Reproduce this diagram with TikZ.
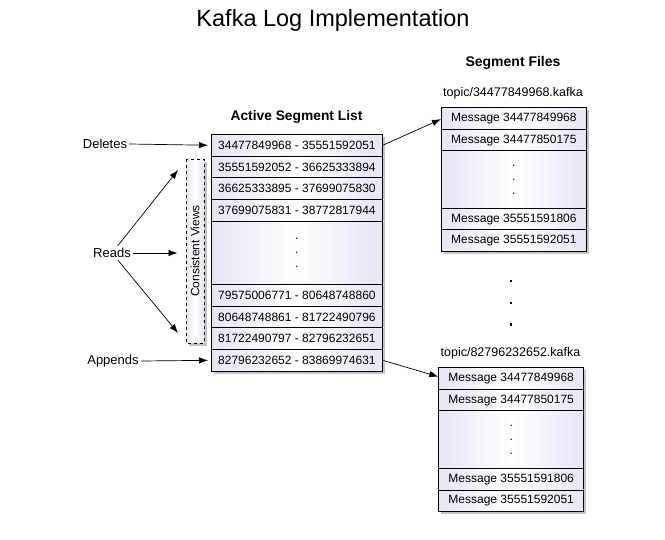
\documentclass[tikz,border=0pt]{standalone}
\usepackage{fontspec}
\setmainfont{Liberation Sans}
\usetikzlibrary{shadows,arrows.meta,calc,fit}
\definecolor{lav}{RGB}{230,230,245}
\begin{document}
\begin{tikzpicture}[x=1pt,y=-1pt,
  fs/.style={font=\fontsize{#1}{#1}\selectfont},
  cell/.style={draw=black, line width=0.8pt, inner sep=0pt, anchor=north west,
    left color=lav, right color=lav, middle color=white, fs=12},
  arow/.style={cell, minimum width=171pt, minimum height=21.7pt},
  srow/.style={cell, minimum width=145pt, minimum height=21.5pt},
  dotsbox/.style={align=center, font=\fontsize{12}{14}\selectfont},
  shad/.style={draw=none, inner sep=0pt, fill=white,
    drop shadow={shadow xshift=2.5pt, shadow yshift=-3pt, fill=black!45}},
  lbl/.style={fs=13, inner sep=2pt},
  arr/.style={-{Latex[length=9pt,width=6.5pt]}, line width=0.7pt},
  bigdot/.style={fill=black, inner sep=0pt, minimum size=2.4pt, rectangle}
]
\useasboundingbox (0,0) rectangle (665,540);

% title
\node[fs=23.5] (title) at (333,20) {Kafka Log Implementation};

% ---- Active Segment List ----
\node[font=\bfseries\fontsize{13.8}{16}\selectfont] (asltitle) at (296.5,117) {Active Segment List};
\node[shad, fit={(211,134) (382,370.8)}] (aslbox) {};
\node[arow] (a1) at (211,134) {34477849968 - 35551592051};
\node[arow] (a2) at (211,155.7) {35551592052 - 36625333894};
\node[arow] (a3) at (211,177.4) {36625333895 - 37699075830};
\node[arow] (a4) at (211,199.1) {37699075831 - 38772817944};
\node[arow, minimum height=63.2pt, dotsbox] (a5) at (211,220.8) {.\\.\\.};
\node[arow] (a6) at (211,284) {79575006771 - 80648748860};
\node[arow] (a7) at (211,305.7) {80648748861 - 81722490796};
\node[arow] (a8) at (211,327.4) {81722490797 - 82796232651};
\node[arow] (a9) at (211,349.1) {82796232652 - 83869974631};

% ---- Segment Files ----
\node[font=\bfseries\fontsize{14}{16}\selectfont] (sftitle) at (513,63) {Segment Files};

\node[fs=12.5] (t1) at (513,93) {topic/34477849968.kafka};
\node[shad, fit={(441,107.5) (586,251)}] (s1box) {};
\node[srow] (s1r1) at (441,107.5) {Message 34477849968};
\node[srow] (s1r2) at (441,129) {Message 34477850175};
\node[srow, minimum height=57.5pt, dotsbox] (s1r3) at (441,150.5) {.\\.\\.};
\node[srow] (s1r4) at (441,208) {Message 35551591806};
\node[srow] (s1r5) at (441,229.5) {Message 35551592051};

\node[bigdot] (d1) at (511,281) {};
\node[bigdot] (d2) at (511,303) {};
\node[bigdot] (d3) at (511,324.5) {};

\node[fs=12.5] (t2) at (510.5,353) {topic/82796232652.kafka};
\node[shad, fit={(438.3,367.5) (583.3,511)}] (s2box) {};
\node[srow] (s2r1) at (438.3,367.5) {Message 34477849968};
\node[srow] (s2r2) at (438.3,389) {Message 34477850175};
\node[srow, minimum height=57.5pt, dotsbox] (s2r3) at (438.3,410.5) {.\\.\\.};
\node[srow] (s2r4) at (438.3,468) {Message 35551591806};
\node[srow] (s2r5) at (438.3,489.5) {Message 35551592051};

% ---- Consistent Views ----
\node[draw=black, dashed, line width=0.7pt, inner sep=0pt, minimum width=184pt, minimum height=18pt,
  rotate=90, left color=lav, right color=lav, middle color=white,
  drop shadow={shadow xshift=2.5pt, shadow yshift=-3pt, fill=black!45}, fs=12]
  (cv) at (195,251) {Consistent Views};

% ---- labels ----
\node[lbl] (del) at (105,144) {Deletes};
\node[lbl] (rd) at (112,253) {Reads};
\node[lbl] (app) at (113,361) {Appends};

\coordinate (rt) at (178,170);
\coordinate (rb) at (178,333);
\coordinate (rm) at (177.5,253);

\draw[arr] (del.east) -- ($(a1.west)+(-3,0)$);
\draw[arr] (app.east) -- ($(a9.west)+(-3,0)$);
\draw[arr] (rd.east) -- (rm);
\draw[arr] (rd) -- (rt);
\draw[arr] (rd) -- (rb);

\draw[arr] (a1.east) -- ($(s1r1.west)+(0,0.5)$);
\draw[arr] (a9.east) -- ($(s2r1.west)+(0,-2)$);
\end{tikzpicture}
\end{document}
